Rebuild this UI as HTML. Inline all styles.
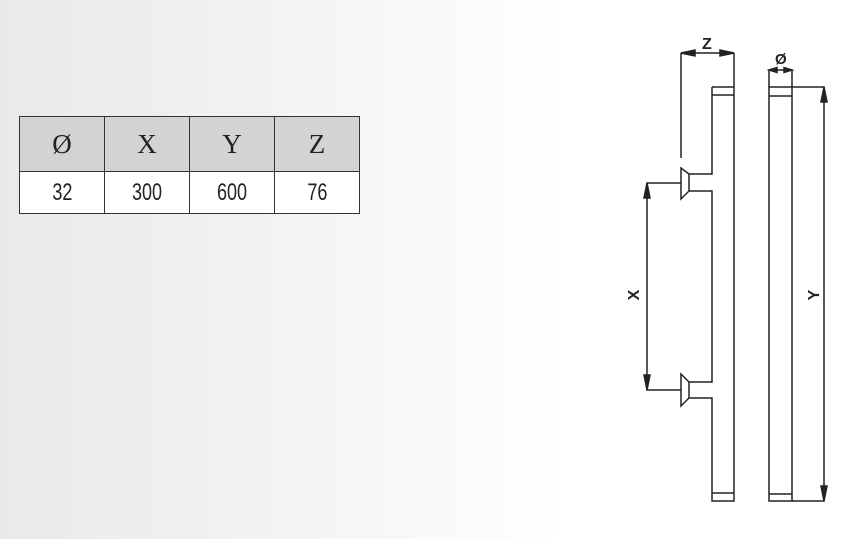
<!DOCTYPE html>
<html><head><style>
body{margin:0;width:867px;height:539px;overflow:hidden;background:linear-gradient(90deg,#e9e9e9 0%,#f4f4f4 35%,#fff 65%);position:relative;font-family:"Liberation Sans",sans-serif}
table{position:absolute;left:19px;top:116px;border-collapse:collapse}
td{border:1.5px solid #333;width:84px;text-align:center;padding:0}
tr.h td{background:#d3d3d3;height:54px;font-family:"Liberation Serif",serif;font-size:27px;color:#222}
tr.v td{background:#fff;height:41px;font-size:24px;color:#222}
tr.v td span{display:inline-block;transform:scaleX(0.75)}
svg{position:absolute;left:0;top:0}
</style></head><body>
<table><tr class="h"><td>Ø</td><td>X</td><td>Y</td><td>Z</td></tr>
<tr class="v"><td><span>32</span></td><td><span>300</span></td><td><span>600</span></td><td><span>76</span></td></tr></table>
<svg width="867" height="539" viewBox="0 0 867 539" fill="none" stroke="#222" stroke-width="1.5">
<path d="M712 87H734V501H712V398H689M689 382H712V191H689M689 174H712V87"/>
<line x1="712" y1="95" x2="734" y2="95"/>
<line x1="712" y1="493" x2="734" y2="493"/>
<path d="M681 168L689 174V191L681 199Z"/>
<path d="M681 374L689 382V398L681 406Z"/>
<rect x="769" y="87" width="23" height="414"/>
<line x1="769" y1="96" x2="792" y2="96"/>
<line x1="769" y1="494" x2="792" y2="494"/>
<line x1="681" y1="53" x2="681" y2="158"/>
<line x1="734" y1="53" x2="734" y2="87"/>
<line x1="681" y1="53" x2="734" y2="53"/>
<path d="M681 53L695 50V56Z M734 53L720 50V56Z" fill="#222"/>
<line x1="769" y1="70" x2="769" y2="87"/>
<line x1="792" y1="70" x2="792" y2="87"/>
<line x1="769" y1="70" x2="792" y2="70"/>
<path d="M769 70L777 67.5V72.5Z M792 70L784 67.5V72.5Z" fill="#222"/>
<path d="M681 183H647V390H681"/>
<path d="M647 183L644 198H650Z M647 390L644 375H650Z" fill="#222"/>
<path d="M792 87H824V501H792"/>
<path d="M824 87L821 102H827Z M824 501L821 486H827Z" fill="#222"/>
<g fill="#222" stroke="none" font-family="Liberation Sans,sans-serif" font-size="16" font-weight="bold">
<text x="702" y="49">Z</text>
<text x="775" y="64" font-size="15">Ø</text>
<text transform="translate(639,295) rotate(-90)" text-anchor="middle">X</text>
<text transform="translate(819,295) rotate(-90)" text-anchor="middle">Y</text>
</g>
</svg>
</body></html>
